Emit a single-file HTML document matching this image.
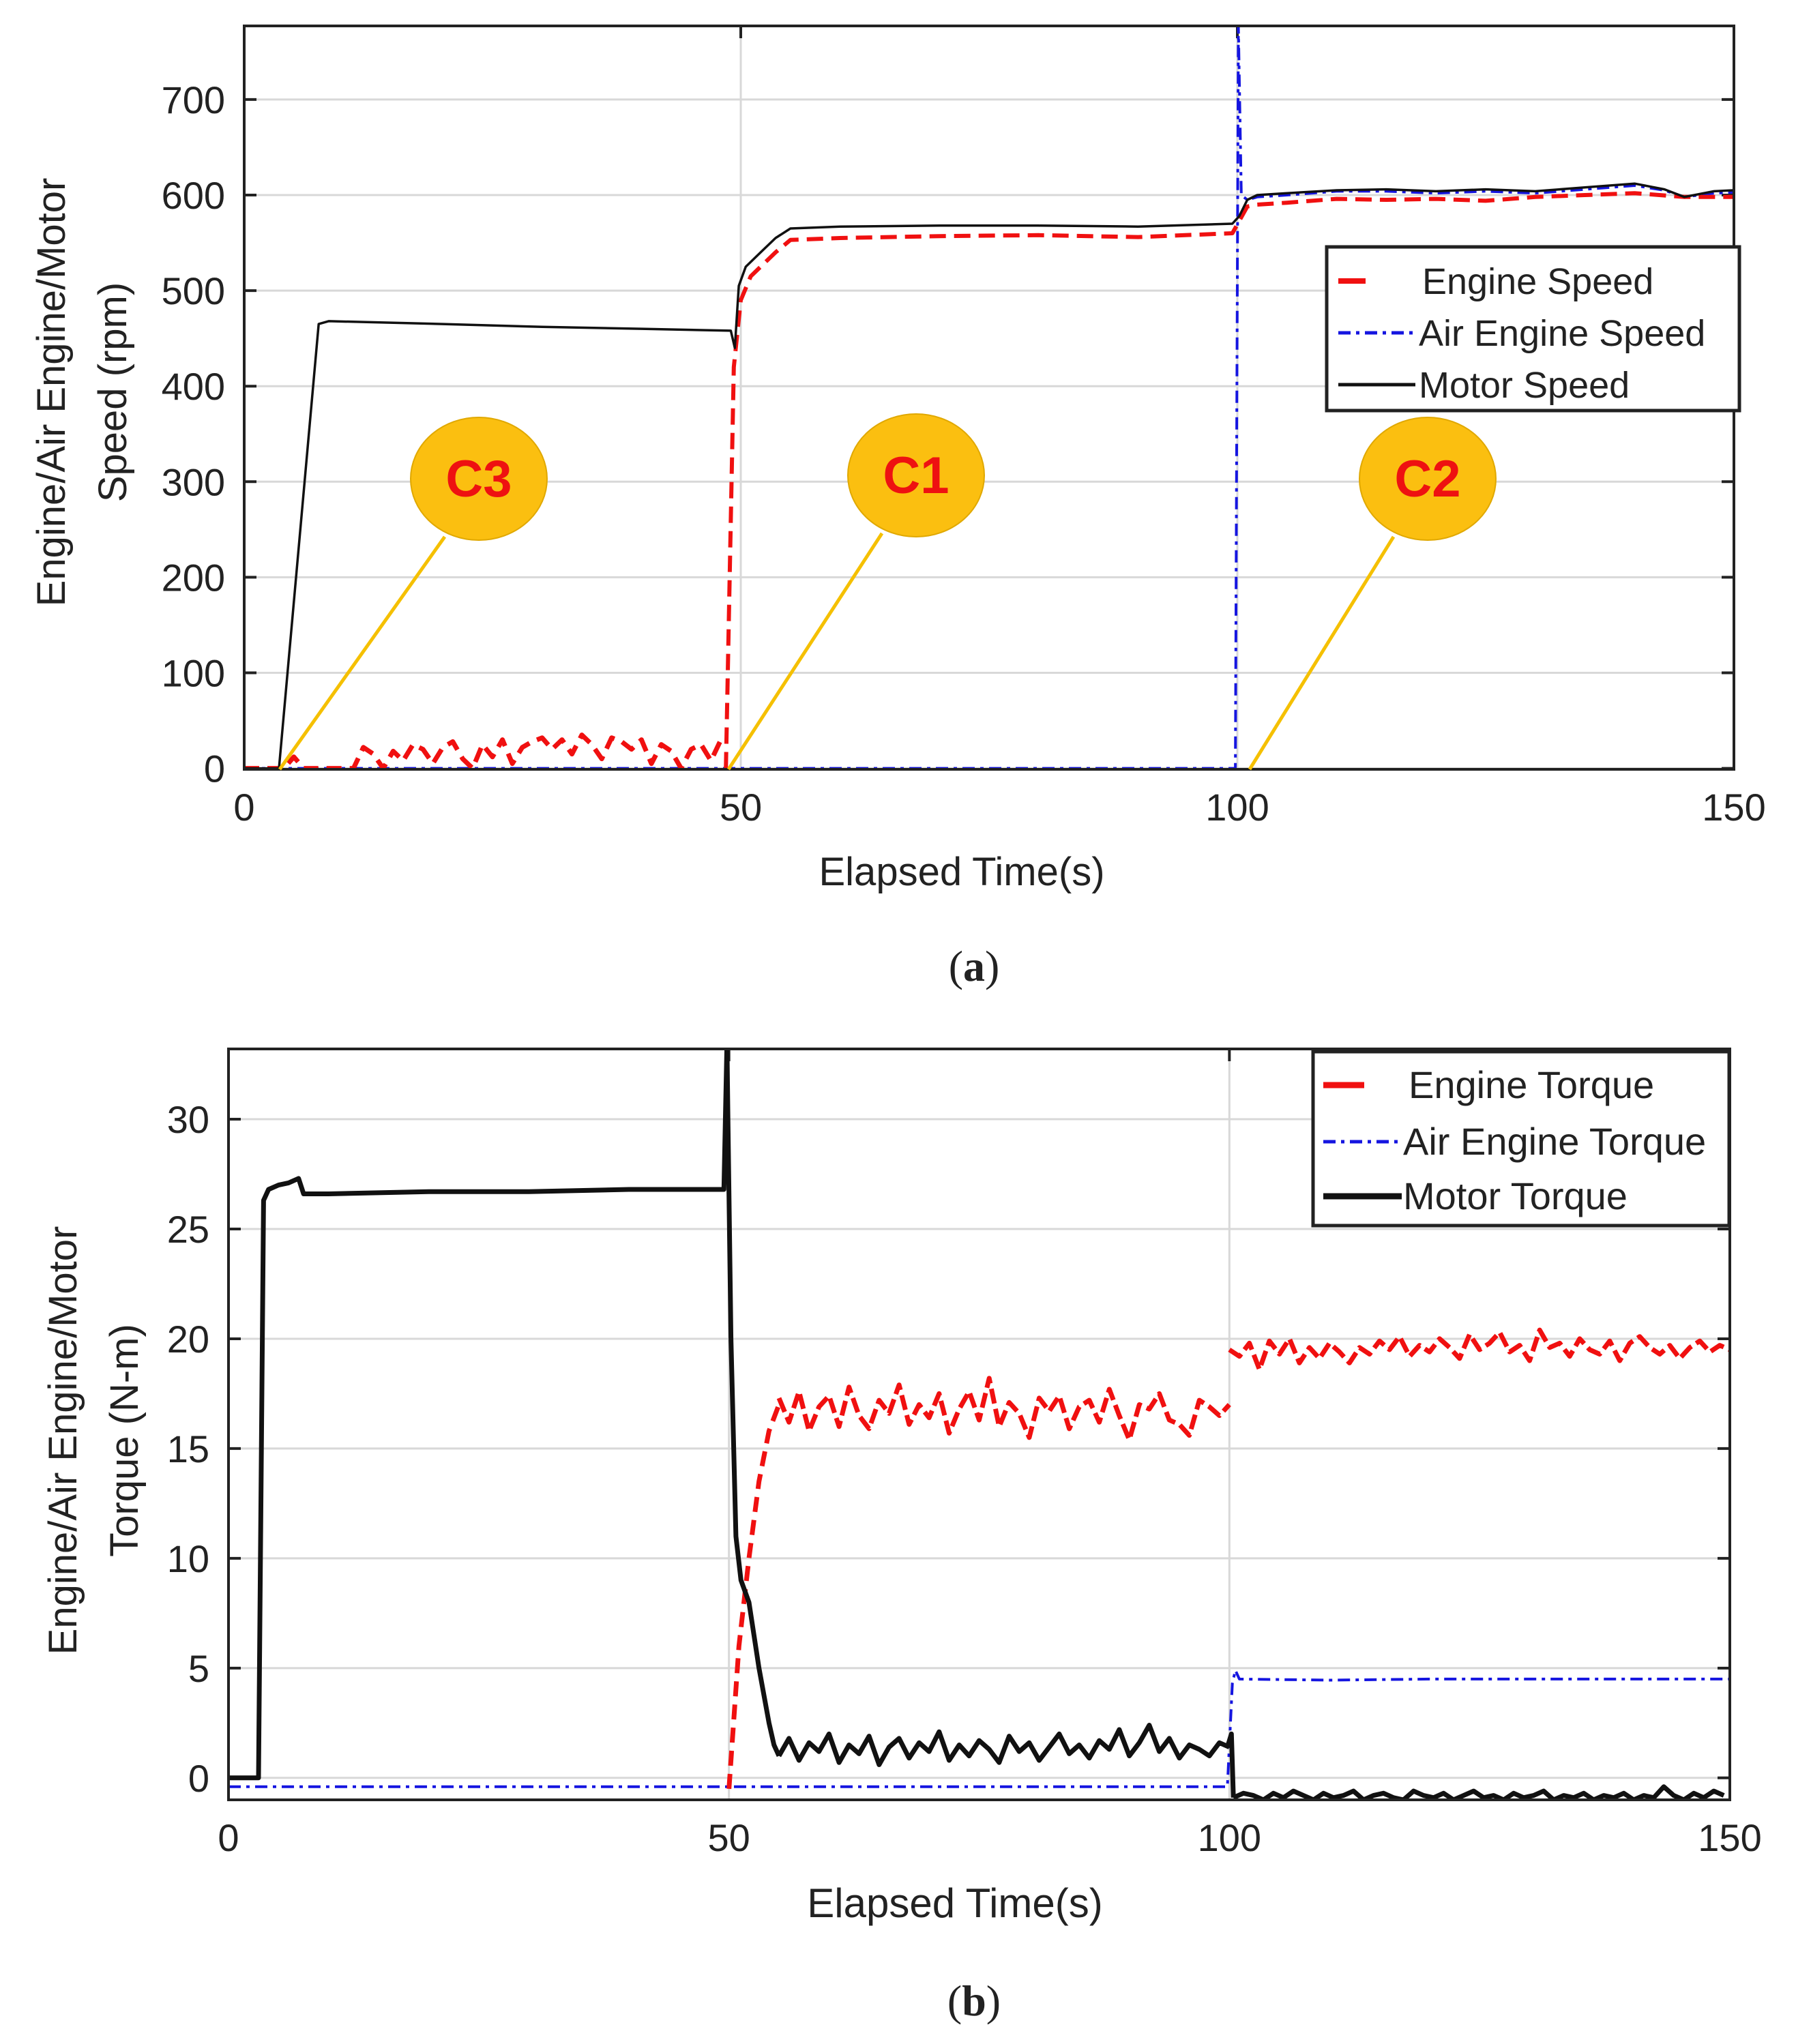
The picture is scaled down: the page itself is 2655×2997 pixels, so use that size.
<!DOCTYPE html>
<html><head><meta charset="utf-8"><style>
html,body{margin:0;padding:0;background:#fff;}
svg{display:block;}
text{font-family:"Liberation Sans","DejaVu Sans",sans-serif;fill:#222;}
</style></head><body>
<svg id="fig" width="2655" height="2997" viewBox="0 0 2655 2997" xmlns="http://www.w3.org/2000/svg">
<g id="pa"></g>
<g id="pb"></g>
<text x="1428" y="1438" font-size="64" text-anchor="middle" style="font-family:'Liberation Serif',serif">(<tspan font-weight="bold">a</tspan>)</text>
<text x="1428" y="2955" font-size="64" text-anchor="middle" style="font-family:'Liberation Serif',serif">(<tspan font-weight="bold">b</tspan>)</text>
</svg>
<script>
// ---------- data: speed chart ----------
const xTicks = [0, 50, 100, 150];
const speedTicks = [0, 100, 200, 300, 400, 500, 600, 700];
const motorSpeedT = [0,3.5,7.5,8.5,20,30,40,49,49.4,49.8,50.5,52,53.5,55,60,70,80,90,99.5,100.2,101,102,105,110,115,120,125,130,135,140,143,145,148,150];
const motorSpeedV = [0,0,465,468,465,462,460,458,440,505,525,540,555,565,567,568,568,567,570,578,595,600,602,605,606,604,606,604,608,612,606,598,604,605];
const engineNoiseStart = 0;
const engineNoise = [0,0,0,0,0,12,0,0,0,0,0,0,22,15,0,18,8,25,20,5,22,28,10,0,25,12,30,5,22,28,32,20,30,15,35,25,10,32,28,20,30,5,25,18,0,20,25,8,30];
const engineRiseT = [48.5,49.3,50,51,52,53.5,55,60,70,80,90,99.5,100.3,101,102,105,110,115,120,125,130,135,140,145,150];
const engineRiseV = [0,420,490,515,525,540,553,555,557,558,556,560,575,588,590,592,596,595,596,594,598,600,602,598,598];
const airSpeedT = [0,99.8,100.1,100.4,101,102,105,110,115,120,125,130,135,140,143,145,148,150];
const airSpeedV = [0,0,777,600,595,598,600,604,604,602,604,602,606,610,605,598,602,603];
// ---------- data: torque chart ----------
const torqueTicks = [0, 5, 10, 15, 20, 25, 30];
const motorTorqueT = [0,3,3.5,4,5,6,7,7.5,10,20,30,40,49.5,49.8,50.2,50.7,51.2,52,53,54,54.5,55];
const motorTorqueV = [0,0,26.3,26.8,27,27.1,27.3,26.6,26.6,26.7,26.7,26.8,26.8,33.4,20,11,9,8,5,2.5,1.5,1.0];
const motorNoiseStart = 55;
const motorNoise = [1.0,1.8,0.8,1.6,1.2,2.0,0.7,1.5,1.1,1.9,0.6,1.4,1.8,0.9,1.6,1.2,2.1,0.8,1.5,1.0,1.7,1.3,0.7,1.9,1.2,1.6,0.8,1.4,2.0,1.1,1.5,0.9,1.7,1.3,2.2,1.0,1.6,2.4,1.2,1.8,0.9,1.5,1.3,1.0,1.6,1.4];
const motorTailStart = 100.4;
const motorTail = [-0.9,-0.7,-0.8,-1.0,-0.7,-0.9,-0.6,-0.8,-1.0,-0.7,-0.9,-0.8,-0.6,-1.0,-0.8,-0.7,-0.9,-1.0,-0.6,-0.8,-0.9,-0.7,-1.0,-0.8,-0.6,-0.9,-0.8,-1.0,-0.7,-0.9,-0.8,-0.6,-1.0,-0.8,-0.9,-0.7,-1.0,-0.8,-0.9,-0.7,-1.0,-0.8,-0.9,-0.4,-0.8,-1.0,-0.7,-0.9,-0.6,-0.8];
const engTorqueRiseT = [50,51,52,53,54,55];
const engTorqueRiseV = [-0.5,6,10,13.5,15.8,17];
const engTorqueNoiseStart = 55;
const engTorqueNoise = [17.3,16.2,17.6,15.8,16.9,17.4,16.0,17.8,16.5,15.9,17.2,16.6,17.9,16.1,17.0,16.4,17.5,15.7,16.8,17.6,16.3,18.2,16.0,17.1,16.6,15.5,17.3,16.7,17.4,15.9,16.9,17.2,16.2,17.7,16.5,15.4,17.0,16.8,17.5,16.3,16.1,15.6,17.2,16.9,16.5,17.0];
const engTorqueHighStart = 100;
const engTorqueHigh = [19.5,19.2,19.8,18.6,19.9,19.3,20.0,18.9,19.6,19.1,19.8,19.4,18.9,19.6,19.3,19.9,19.5,20.1,19.2,19.7,19.4,20.0,19.6,19.1,20.2,19.5,19.8,20.3,19.4,19.7,19.0,20.4,19.6,19.8,19.2,20.0,19.5,19.3,19.9,19.0,19.8,20.1,19.6,19.3,19.7,19.1,19.6,19.9,19.4,19.7,19.5];
const airTorqueT = [0,99.8,100.3,100.6,101,110,120,130,140,150];
const airTorqueV = [-0.4,-0.4,4.3,4.9,4.5,4.45,4.5,4.5,4.5,4.5];

const NS='http://www.w3.org/2000/svg';
function mk(parent,tag,attrs){const e=document.createElementNS(NS,tag);for(const k in attrs)e.setAttribute(k,attrs[k]);parent.appendChild(e);return e;}
function seqT(start,arr,step){return arr.map((_,i)=>start+i*step);}
function pathD(ts,vs,sx,sy){return ts.map((t,i)=>(i?'L':'M')+sx(t).toFixed(1)+','+sy(vs[i]).toFixed(1)).join('');}

function axes(g,L,R,T,B,xmin,xmax,ymin,ymax,yt){
  const sx=t=>L+(t-xmin)/(xmax-xmin)*(R-L);
  const sy=v=>B-(v-ymin)/(ymax-ymin)*(B-T);
  yt.forEach(v=>{
    const l=mk(g,'line',{x1:L,x2:R,y1:sy(v),y2:sy(v),stroke:'#d8d8d8','stroke-width':3});
    
    
    mk(g,'line',{x1:L,x2:L+18,y1:sy(v),y2:sy(v),stroke:'#222','stroke-width':4});
    mk(g,'line',{x1:R-18,x2:R,y1:sy(v),y2:sy(v),stroke:'#222','stroke-width':4});
    const tx=mk(g,'text',{x:L-28,y:sy(v)+20,'font-size':56,'text-anchor':'end'});
    tx.textContent=v;
    
    
  });
  xTicks.forEach(t=>{
    if(t>xmin&&t<xmax){
      const l=mk(g,'line',{x1:sx(t),x2:sx(t),y1:T,y2:B,stroke:'#d8d8d8','stroke-width':3});
      
      
      mk(g,'line',{x1:sx(t),x2:sx(t),y1:T,y2:T+18,stroke:'#222','stroke-width':4});
    }
    const tx=mk(g,'text',{x:sx(t),y:B+75,'font-size':56,'text-anchor':'middle'});
    tx.textContent=t;
    
    
  });
  return {sx,sy};
}
function series(g,d,color,w,dash,name){
  const p=mk(g,'path',{d:d,fill:'none',stroke:color,'stroke-width':w,'stroke-linejoin':'round'});
  if(dash)p.setAttribute('stroke-dasharray',dash);
  
  
}
function frame(g,L,R,T,B){
  const r=mk(g,'rect',{x:L,y:T,width:R-L,height:B-T,fill:'none',stroke:'#222','stroke-width':4});
  
  
}

// ---------- chart a ----------
(function(){
  const g=document.getElementById('pa');
  const L=358,R=2542,T=38,B=1128;
  const {sx,sy}=axes(g,L,R,T,B,0,150,-1,777,speedTicks);
  const clip=mk(g,'clipPath',{id:'ca'});mk(clip,'rect',{x:L,y:T,width:R-L,height:B-T});
  const s=mk(g,'g',{'clip-path':'url(#ca)'});
  series(s,pathD(airSpeedT,airSpeedV,sx,sy),'#1515e0',4,'18,8,5,8','air-engine-speed-line');
  const et=seqT(engineNoiseStart,engineNoise,1);
  series(s,pathD(et,engineNoise,sx,sy),'#f01010',7,'22,12','engine-speed-noise-line');
  series(s,pathD(engineRiseT,engineRiseV,sx,sy),'#f01010',6,'24,12','engine-speed-line');
  series(s,pathD(motorSpeedT,motorSpeedV,sx,sy),'#111',3.5,null,'motor-speed-line');
  frame(g,L,R,T,B);
  const callouts=[['C3',702,702,410],['C1',1343,697,1068],['C2',2093,702,1832]];
  callouts.forEach(c=>{
    const ln=mk(g,'line',{x1:c[1]-50,y1:c[2]+85,x2:c[3],y2:B,stroke:'#f5c000','stroke-width':5});
    
    
    const el=mk(g,'ellipse',{cx:c[1],cy:c[2],rx:100,ry:90,fill:'#fbbf10',stroke:'#e0a800','stroke-width':2});
    
    
    const tx=mk(g,'text',{x:c[1],y:c[2]+26,'font-size':76,'font-weight':'bold','text-anchor':'middle',fill:'#ee1111'});
    tx.setAttribute('style','fill:#ee1111');
    tx.textContent=c[0];
    
    
  });
  const lg=mk(g,'g',{});
  
  
  mk(lg,'rect',{x:1945,y:362,width:605,height:240,fill:'#fff',stroke:'#222','stroke-width':5});
  const items=[['Engine Speed','#f01010',8,'40,200'],['Air Engine Speed','#1515e0',5,'18,8,5,8'],['Motor Speed','#111',5,null]];
  items.forEach((it,i)=>{
    const y=412+i*76;
    const l=mk(lg,'line',{x1:1962,x2:2075,y1:y,y2:y,stroke:it[1],'stroke-width':it[2]});
    if(it[3])l.setAttribute('stroke-dasharray',it[3]);
    const tx=mk(lg,'text',{x:2080,y:y+19,'font-size':54});
    if(i==0)tx.setAttribute('x',2085);
    tx.textContent=it[0];
    
    
  });
  const xl=mk(g,'text',{x:1410,y:1298,'font-size':58,'text-anchor':'middle'});
  xl.textContent='Elapsed Time(s)';
  
  
  const yl=mk(g,'text',{transform:'translate(95,575) rotate(-90)','font-size':58,'text-anchor':'middle'});
  yl.innerHTML='<tspan x="0" dy="0">Engine/Air Engine/Motor</tspan><tspan x="0" dy="90">Speed (rpm)</tspan>';
  
  
})();

// ---------- chart b ----------
(function(){
  const g=document.getElementById('pb');
  const L=335,R=2536,T=1538,B=2639;
  const {sx,sy}=axes(g,L,R,T,B,0,150,-1.0,33.2,torqueTicks);
  const clip=mk(g,'clipPath',{id:'cb'});mk(clip,'rect',{x:L,y:T,width:R-L,height:B-T});
  const s=mk(g,'g',{'clip-path':'url(#cb)'});
  series(s,pathD(airTorqueT,airTorqueV,sx,sy),'#1515e0',4,'18,8,5,8','air-engine-torque-line');
  series(s,pathD(engTorqueRiseT,engTorqueRiseV,sx,sy),'#f01010',7,'22,12','engine-torque-rise-line');
  series(s,pathD(seqT(engTorqueNoiseStart,engTorqueNoise,1),engTorqueNoise,sx,sy),'#f01010',7,'22,8','engine-torque-line');
  series(s,pathD(seqT(engTorqueHighStart,engTorqueHigh,1),engTorqueHigh,sx,sy),'#f01010',7,'22,8','engine-torque-high-line');
  series(s,pathD(motorTorqueT,motorTorqueV,sx,sy),'#111',7,null,'motor-torque-line');
  series(s,pathD(seqT(motorNoiseStart,motorNoise,1),motorNoise,sx,sy),'#111',7,null,'motor-torque-noise-line');
  const dropT=[99.8,100.2,100.4], dropV=[motorNoise[motorNoise.length-1],2,motorTail[0]];
  series(s,pathD(dropT,dropV,sx,sy),'#111',7,null,'motor-torque-drop-line');
  series(s,pathD(seqT(motorTailStart,motorTail,1),motorTail,sx,sy),'#111',7,null,'motor-torque-tail-line');
  frame(g,L,R,T,B);
  const lg=mk(g,'g',{});
  
  
  mk(lg,'rect',{x:1925,y:1542,width:610,height:255,fill:'#fff',stroke:'#222','stroke-width':5});
  const items=[['Engine Torque','#f01010',9,'60,200',2065,1591],['Air Engine Torque','#1515e0',5,'18,8,5,8',2057,1674],['Motor Torque','#111',9,null,2057,1754]];
  items.forEach((it,i)=>{
    const y=it[5];
    const l=mk(lg,'line',{x1:1940,x2:2055,y1:y,y2:y,stroke:it[1],'stroke-width':it[2]});
    if(it[3])l.setAttribute('stroke-dasharray',it[3]);
    const tx=mk(lg,'text',{x:it[4],y:y+19,'font-size':56});
    tx.textContent=it[0];
    
    
  });
  const xl=mk(g,'text',{x:1400,y:2811,'font-size':60,'text-anchor':'middle'});
  xl.textContent='Elapsed Time(s)';
  
  
  const yl=mk(g,'text',{transform:'translate(112,2112) rotate(-90)','font-size':58,'text-anchor':'middle'});
  yl.innerHTML='<tspan x="0" dy="0">Engine/Air Engine/Motor</tspan><tspan x="0" dy="90">Torque (N-m)</tspan>';
  
  
})();
</script>
</body></html>
